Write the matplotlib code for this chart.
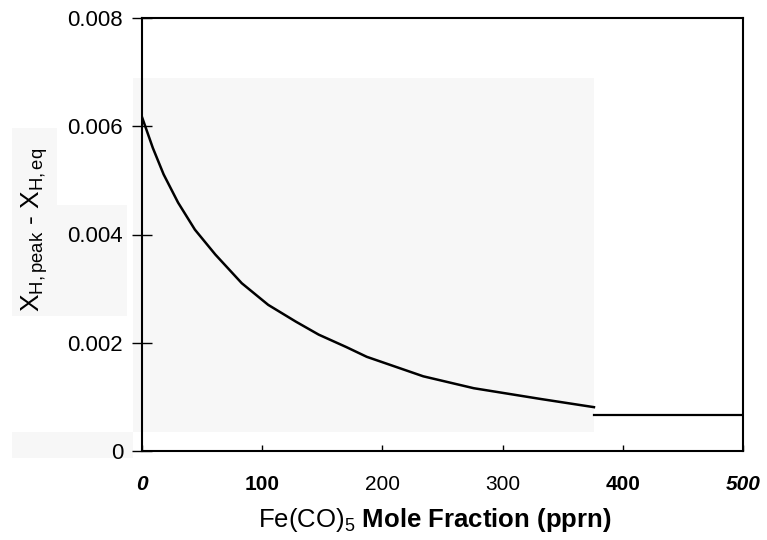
import matplotlib
matplotlib.use("Agg")
import matplotlib.pyplot as plt
from matplotlib.patches import Rectangle

plt.rcParams['font.family'] = ['Liberation Sans', 'DejaVu Sans']
plt.rcParams['mathtext.fontset'] = 'custom'
plt.rcParams['mathtext.rm'] = 'Liberation Sans'
plt.rcParams['mathtext.it'] = 'Liberation Sans:italic'
plt.rcParams['mathtext.bf'] = 'Liberation Sans:bold'

# Fe(CO)5 mole fraction (ppm) vs. peak-minus-equilibrium H mole fraction
fe_ppm = [0, 9, 18, 30, 44, 61, 83, 105, 128, 147, 170, 187, 234, 276, 332, 376]
x_h_diff = [0.00617, 0.00560, 0.00511, 0.00459, 0.00409, 0.00363, 0.00310, 0.00270,
            0.00239, 0.00215, 0.00192, 0.00174, 0.00138, 0.00116, 0.00096, 0.00081]

# flat piece on the right (as it appears on the scanned figure)
tail_ppm = [376, 500]
tail_val = [0.00067, 0.00067]

xticks = [0, 100, 200, 300, 400, 500]
yticks = [0, 0.002, 0.004, 0.006, 0.008]
ytick_labels = ['0', '0.002', '0.004', '0.006', '0.008']

W, H = 767, 540
fig = plt.figure(figsize=(W / 100, H / 100), dpi=100)

# light grey scan patches behind the drawing (pixel boxes: x0, y0, x1, y1)
grey_boxes = [(133, 78, 594, 432), (12, 128, 57, 205),
              (12, 205, 127, 316), (12, 432, 133, 458)]
for x0, y0, x1, y1 in grey_boxes:
    fig.add_artist(Rectangle((x0 / W, 1 - y1 / H), (x1 - x0) / W, (y1 - y0) / H,
                             transform=fig.transFigure, facecolor='#f7f7f7',
                             edgecolor='none', zorder=-5))

ax = fig.add_axes([142 / W, 1 - 451 / H, (743 - 142) / W, (451 - 18) / H])
ax.patch.set_visible(False)

ax.plot(fe_ppm, x_h_diff, color='black', lw=1.8, solid_joinstyle='round')
ax.plot(tail_ppm, tail_val, color='black', lw=1.6)

ax.set_xlim(0, 500)
ax.set_ylim(0, 0.008)

for s in ax.spines.values():
    s.set_linewidth(1.5)
    s.set_color('black')

ax.set_xticks(xticks)
ax.set_xticklabels([str(v) for v in xticks])
ax.set_yticks(yticks)
ax.set_yticklabels(ytick_labels)
ax.tick_params(axis='x', direction='in', length=4, width=1, pad=17, labelsize=15)
ax.tick_params(axis='y', direction='inout', length=15, width=1, pad=6, labelsize=16)

# the scanned tick labels come in mixed weights / slants
x_styles = [('bold', 'italic'), ('bold', 'normal'), ('normal', 'normal'),
            ('normal', 'normal'), ('bold', 'normal'), ('bold', 'italic')]
for lab, (w, st) in zip(ax.get_xticklabels(), x_styles):
    lab.set_fontweight(w)
    lab.set_fontstyle(st)

ax.set_xlabel(r'Fe(CO)$_5$ $\mathbf{Mole\ Fraction\ (pprn)}$', fontsize=18.5)
ax.xaxis.set_label_coords(0.487, -0.128)
ax.set_ylabel(r'X$_{\mathrm{H,peak}}$ - X$_{\mathrm{H,eq}}$', fontsize=19)
ax.yaxis.set_label_coords(-0.153, 0.51)

fig.savefig('out.png', dpi=100)
